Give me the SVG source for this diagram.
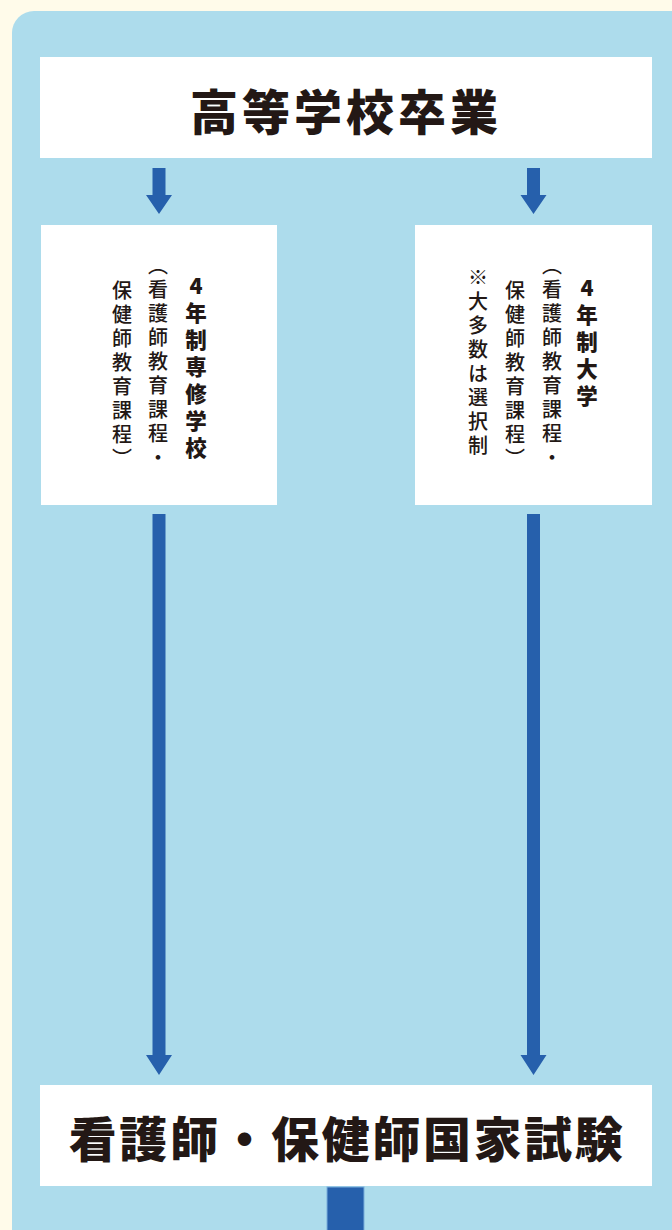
<svg xmlns="http://www.w3.org/2000/svg" width="672" height="1230" viewBox="0 0 672 1230">
<style>
.box{fill:#ffffff}
.arrow{fill:#2660ac}
.title{font-family:"Noto Sans CJK JP","Noto Sans CJK SC",sans-serif;font-weight:900;fill:#231815;text-anchor:middle}
.vb{font-family:"Noto Sans CJK JP","Noto Sans CJK SC",sans-serif;font-weight:900;font-size:21.5px;letter-spacing:5.5px;fill:#231815;writing-mode:vertical-rl;text-orientation:upright}
.vr{font-family:"Noto Sans CJK JP","Noto Sans CJK SC",sans-serif;font-weight:500;font-size:20px;letter-spacing:4px;fill:#231815;writing-mode:vertical-rl;text-orientation:upright}
</style>
<rect x="0" y="0" width="672" height="1230" fill="#fffbea"/>
<rect x="12" y="11" width="720" height="1280" rx="22" fill="#addcec"/>

<g id="connectors">
<path class="arrow" d="M152.5,168 H165.5 V195 H172 L159,214 L146,195 H152.5 Z"/>
<path class="arrow" d="M527,168 H540 V195 H546.5 L533.5,214 L520.5,195 H527 Z"/>
<path class="arrow" d="M152.5,514 H165.5 V1055 H172 L159,1075 L146,1055 H152.5 Z"/>
<path class="arrow" d="M527,514 H540 V1055 H546.5 L533.5,1075 L520.5,1055 H527 Z"/>
<rect x="327" y="1187" width="37" height="50" fill="#2660ac" stroke="#7aaedb" stroke-width="1"/>
</g>

<g id="node-highschool">
<rect class="box" x="40" y="57" width="612" height="101"/>
<text class="title" x="346" y="130" font-size="48" letter-spacing="4">高等学校卒業</text>
</g>

<g id="node-senmon">
<rect class="box" x="41" y="225" width="236" height="280"/>
<text class="vb" x="196" y="275">4年制専修学校</text>
<text class="vr" x="158" y="255">（看護師教育課程・</text>
<text class="vr" x="122" y="280">保健師教育課程）</text>
</g>

<g id="node-daigaku">
<rect class="box" x="415" y="225" width="237" height="280"/>
<text class="vb" x="587" y="277">4年制大学</text>
<text class="vr" x="552" y="255">（看護師教育課程・</text>
<text class="vr" x="515" y="280">保健師教育課程）</text>
<text class="vr" x="478" y="267">※大多数は選択制</text>
</g>

<g id="node-exam">
<rect class="box" x="40" y="1085" width="612" height="101"/>
<text class="title" x="347" y="1157" font-size="48" letter-spacing="2.6">看護師・保健師国家試験</text>
</g>
</svg>
